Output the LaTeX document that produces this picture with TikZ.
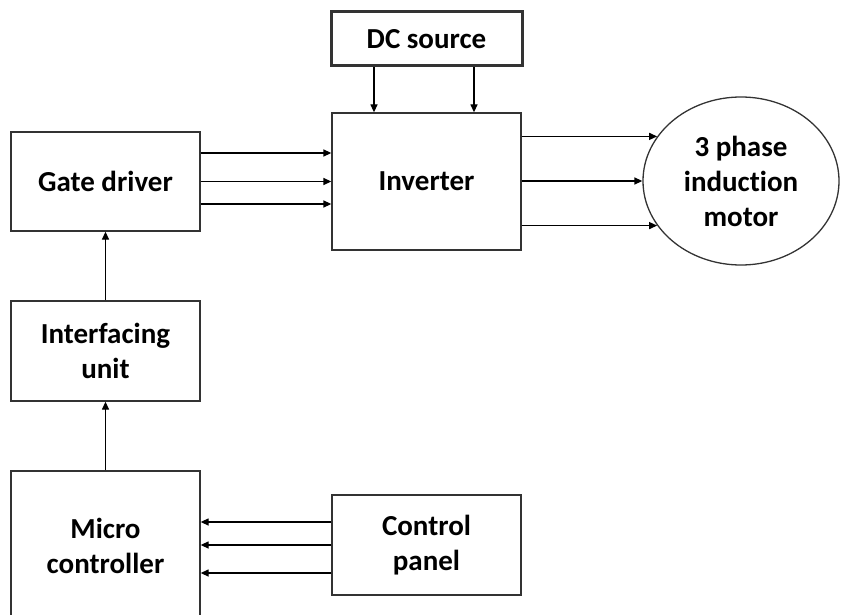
\documentclass[tikz,border=0pt]{standalone}
\usepackage{fontspec}
\setmainfont{Carlito}[RawFeature=-liga]
\usetikzlibrary{arrows.meta,shapes.geometric}

\begin{document}
\begin{tikzpicture}[x=1pt, y=-1pt,
    block/.style ={rectangle, draw=black!80, line width=1.3pt, fill=white,
      minimum width=189pt, minimum height=100pt, align=center,
      font=\fontsize{29}{35}\selectfont\bfseries},
    motorshape/.style ={ellipse, draw=black!80, line width=1.3pt,
      minimum width=196pt, minimum height=168pt, align=center, inner sep=0pt,
      font=\fontsize{29}{35}\selectfont\bfseries},
    signal/.style ={line width=1.3pt, -{Triangle[length=8pt,width=7pt]}}]
   \useasboundingbox (0,0) rectangle (841,615);
   \node[block, line width=3pt, minimum width=191pt, minimum height=54pt] (dc) at (426.5,39) {DC source};
   \node[block, minimum height=137pt] (inv) at (426.5,181.5) {Inverter};
   \node[block, minimum height=99pt] (gate) at (105.5,181.5) {Gate driver};
   \node[block] (intf) at (105.5,351) {Interfacing\\unit};
   \node[block, minimum height=150pt] (micro) at (105.5,546) {Micro\\controller};
   \node[block] (ctrl) at (426.5,545) {Control\\panel};
   \node[motorshape] (motor) at (741,181) {3 phase\\induction\\motor};
   \coordinate (c1) at ([yshift=23pt]ctrl.west);
   \coordinate (c3) at ([yshift=-28pt]ctrl.west);
   \draw[signal] ([xshift=-52.5pt]dc.south) to ([xshift=-52.5pt]inv.north);
   \draw[signal] ([xshift=47.5pt]dc.south) to ([xshift=47.5pt]inv.north);
   \draw[signal] ([yshift=28.5pt]gate.east) to ([yshift=28.5pt]inv.west);
   \draw[signal] (gate.east) to (inv.west);
   \draw[signal] ([yshift=-22.5pt]gate.east) to ([yshift=-22.5pt]inv.west);
   \draw[signal] (inv.east |- motor.152) to (motor.152);
   \draw[signal] (inv.east |- motor.west) to (motor.west);
   \draw[signal] (inv.east |- motor.208) to (motor.208);
   \draw[signal] (intf) to (gate);
   \draw[signal] (micro) to (intf);
   \draw[signal] (c1) to (micro.east |- c1);
   \draw[signal] (ctrl.west) to (micro.east |- ctrl.west);
   \draw[signal] (c3) to (micro.east |- c3);
 \end{tikzpicture}
\end{document}
